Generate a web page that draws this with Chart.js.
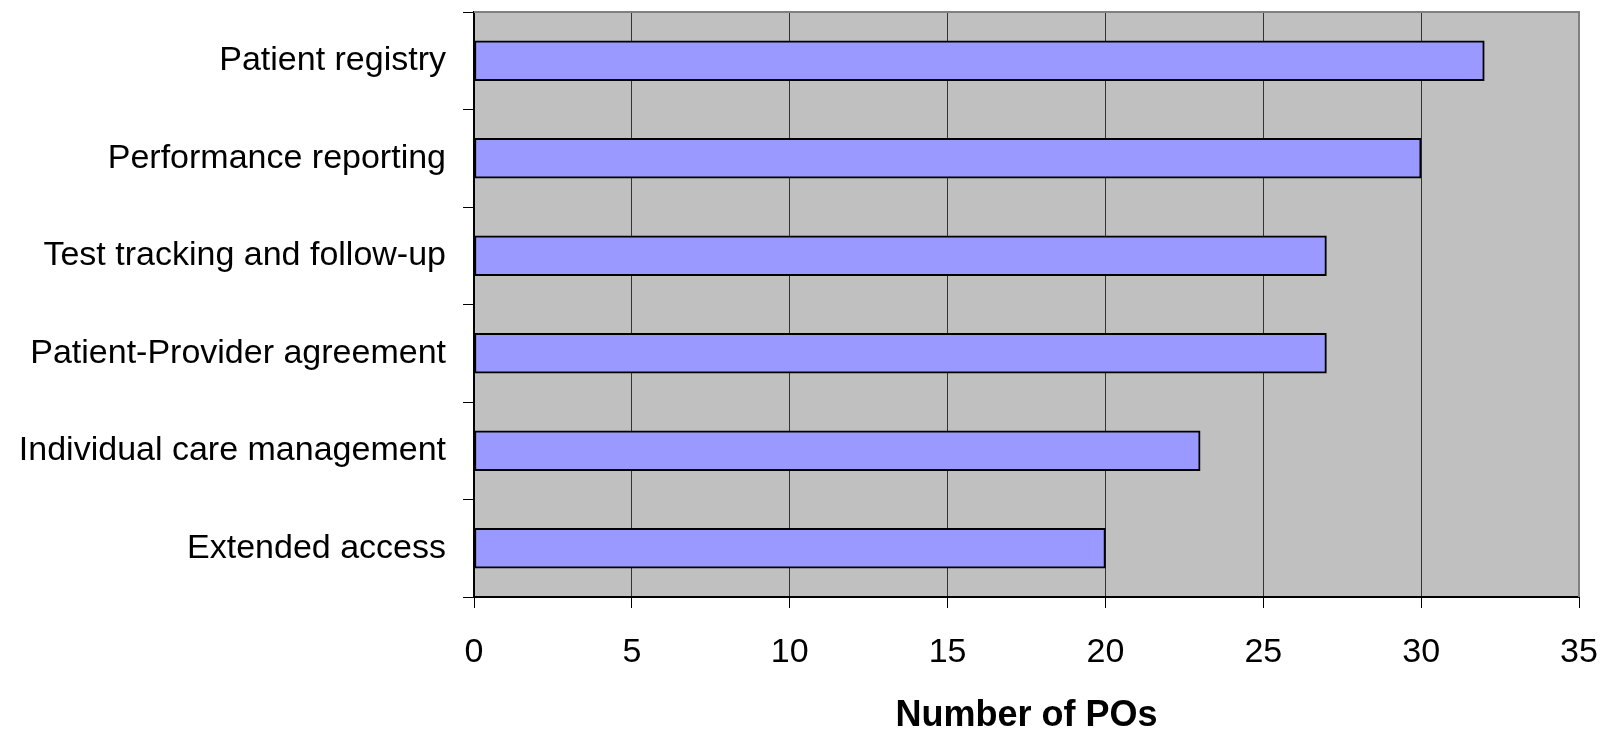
<!DOCTYPE html>
<html>
<head>
<meta charset="utf-8">
<script src="https://cdn.jsdelivr.net/npm/chart.js@4/dist/chart.umd.min.js"></script>
<style>
  html, body { margin: 0; padding: 0; background: #fff; }
  #wrap { width: 1602px; height: 730px; }
</style>
</head>
<body>
<div id="wrap"><canvas id="chart" width="1602" height="730"></canvas></div>
<script>
// data
var categories = ['Patient registry', 'Performance reporting', 'Test tracking and follow-up',
  'Patient-Provider agreement', 'Individual care management', 'Extended access']
var counts = [32, 30, 27, 27, 23, 20]
var xTicks = [0, 5, 10, 15, 20, 25, 30, 35]

var FONT = '"Liberation Sans", Arial, sans-serif'

// grey plot background + grey top/right frame, like the old excel chart
var plotFrame = {
    id: 'plotFrame',
    beforeDraw: function (chart) {
        let a = chart.chartArea
        let ctx = chart.ctx
        ctx.save()
        ctx.fillStyle = '#C0C0C0'
        ctx.fillRect(a.left, a.top, a.right - a.left, a.bottom - a.top)
        ctx.restore()
    },
    afterDraw: function (chart) {
        let a = chart.chartArea
        let ctx = chart.ctx
        ctx.save()
        ctx.strokeStyle = '#808080'
        ctx.lineWidth = 2
        ctx.beginPath()
        ctx.moveTo(a.left, a.top)
        ctx.lineTo(a.right, a.top)
        ctx.lineTo(a.right, a.bottom)
        ctx.stroke()
        ctx.restore()
    }
}

new Chart(document.getElementById('chart'), {
    type: 'bar',
    data: {
        labels: categories,
        datasets: [{
            data: counts,
            backgroundColor: '#9999FF',
            borderColor: '#000000',
            borderWidth: 2,
            borderSkipped: false,
            barThickness: 40
        }]
    },
    options: {
        indexAxis: 'y',
        responsive: false,
        animation: false,
        layout: { padding: { top: 12, right: 23, left: 0, bottom: 0 } },
        plugins: {
            legend: { display: false },
            tooltip: { enabled: false }
        },
        scales: {
            x: {
                min: 0,
                max: 35,
                afterBuildTicks: function (scale) {
                    scale.ticks = xTicks.map(v => ({ value: v }))
                },
                afterFit: function (scale) {
                    scale.height = 133
                    scale.paddingLeft = 0
                    scale.paddingRight = 0
                },
                grid: {
                    color: '#333333',
                    lineWidth: 1,
                    tickColor: '#000000',
                    tickLength: 11
                },
                border: { display: true, color: '#000000', width: 2 },
                ticks: {
                    color: '#000000',
                    padding: 24,
                    maxRotation: 0,
                    font: { family: FONT, size: 34 }
                },
                title: {
                    display: true,
                    text: 'Number of POs',
                    color: '#000000',
                    padding: { top: 0, bottom: 0 },
                    font: { family: FONT, size: 36, weight: 'bold', lineHeight: 0.8 }
                }
            },
            y: {
                afterFit: function (scale) {
                    scale.width = 474
                    scale.paddingTop = 0
                    scale.paddingBottom = 0
                },
                grid: {
                    offset: true,
                    drawOnChartArea: false,
                    tickColor: '#000000',
                    tickLength: 11
                },
                border: { display: true, color: '#000000', width: 2 },
                ticks: {
                    color: '#000000',
                    padding: 17,
                    font: { family: FONT, size: 34 }
                }
            }
        }
    },
    plugins: [plotFrame]
})
</script>
</body>
</html>
